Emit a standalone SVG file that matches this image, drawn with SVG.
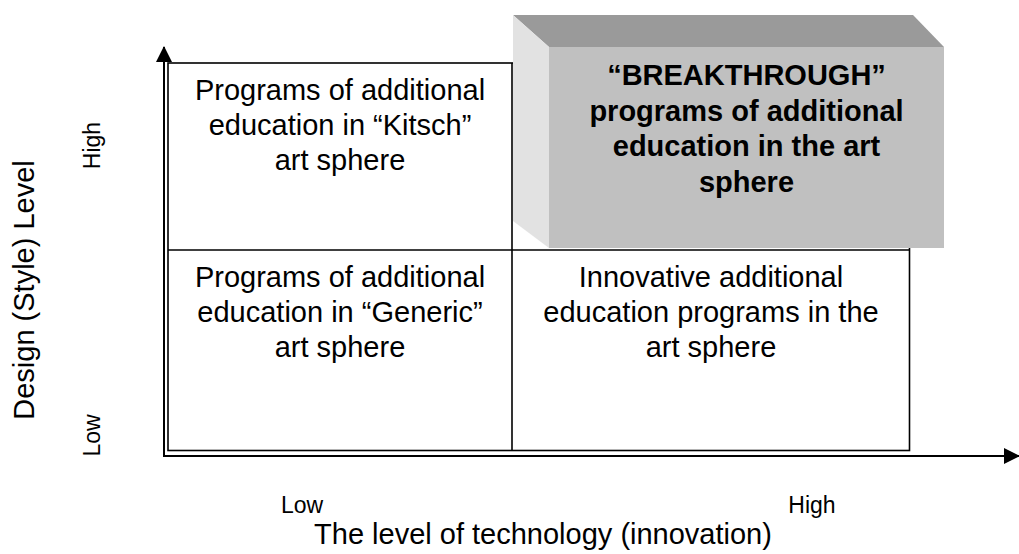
<svg xmlns="http://www.w3.org/2000/svg" width="1019" height="554" viewBox="0 0 1019 554">
<style>
  .t { font-family: "Liberation Sans", Arial, sans-serif; font-size: 29px; fill: #000; text-anchor: middle; }
  .b { font-weight: bold; }
  .s { font-family: "Liberation Sans", Arial, sans-serif; font-size: 23px; fill: #000; text-anchor: middle; }
  .ln { stroke: #000; stroke-width: 1.6; fill: none; }
  .ax { stroke: #000; stroke-width: 2; fill: none; }
</style>
<defs>
  <marker id="arr" viewBox="0 0 16 16" refX="15" refY="8" markerWidth="16" markerHeight="16" markerUnits="userSpaceOnUse" orient="auto">
    <path d="M0,0 L16,8 L0,16 Z" fill="#000"/>
  </marker>
</defs>
<rect width="1019" height="554" fill="#fff"/>

<g id="connectors">
  <line class="ax" x1="164" y1="456" x2="164" y2="47" marker-end="url(#arr)"/>
  <line class="ax" x1="163" y1="456" x2="1019" y2="456" marker-end="url(#arr)"/>
</g>

<g id="grid">
  <rect class="ln" x="168" y="63" width="741.5" height="387.5"/>
  <line class="ln" x1="512" y1="63" x2="512" y2="450.5"/>
  <line class="ln" x1="168" y1="250" x2="909.5" y2="250"/>
</g>

<g id="kitsch">
  <text class="t" x="340" y="100">Programs of additional</text>
  <text class="t" x="340" y="135">education in “Kitsch”</text>
  <text class="t" x="340" y="170">art sphere</text>
</g>

<g id="generic">
  <text class="t" x="340" y="287">Programs of additional</text>
  <text class="t" x="340" y="322">education in “Generic”</text>
  <text class="t" x="340" y="357">art sphere</text>
</g>

<g id="innovative">
  <text class="t" x="711" y="287">Innovative additional</text>
  <text class="t" x="711" y="322">education programs in the</text>
  <text class="t" x="711" y="357">art sphere</text>
</g>

<g id="breakthrough">
  <polygon points="513,15 913,15 944,47 549,47" fill="#9a9a9a"/>
  <polygon points="513,15 549,47 549,248 513,221" fill="#e2e2e2"/>
  <rect x="549" y="47" width="395" height="201" fill="#c0c0c0"/>
  <text class="t b" x="746.5" y="85">“BREAKTHROUGH”</text>
  <text class="t b" x="746.5" y="120.5">programs of additional</text>
  <text class="t b" x="746.5" y="156">education in the art</text>
  <text class="t b" x="746.5" y="191.5">sphere</text>
</g>

<g id="axis-labels">
  <text class="t" transform="translate(34,290) rotate(-90)">Design (Style) Level</text>
  <text class="s" transform="translate(100,145.5) rotate(-90)">High</text>
  <text class="s" transform="translate(100,435.5) rotate(-90)">Low</text>
  <text class="s" x="302" y="513">Low</text>
  <text class="s" x="812" y="513">High</text>
  <text class="t" x="543" y="544">The level of technology (innovation)</text>
</g>
</svg>
